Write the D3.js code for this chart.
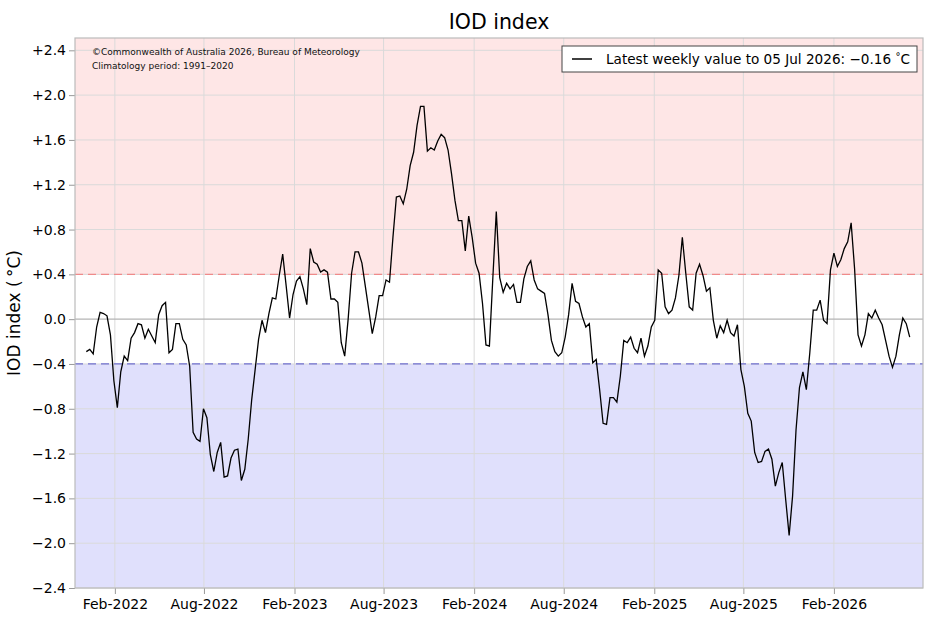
<!DOCTYPE html>
<html>
<head>
<meta http-equiv="Content-Type" content="text/html; charset=utf-8" />
<script src="https://cdn.jsdelivr.net/npm/d3@7"></script>
<title>IOD index</title>
<style>
  body { margin: 0; background: #fff; }
  text { font-family: "DejaVu Sans", sans-serif; }
</style>
</head>
<body>
<svg width="940" height="620" id="mainsvg"></svg>
<script>
// weekly IOD values, first week ending 05 Dec 2021, last 05 Jul 2026
const firstWeek = "2021-12-05";
const iod = [
  -0.29, -0.27, -0.31, -0.07, 0.06, 0.05, 0.03, -0.14, -0.55, -0.79,
  -0.47, -0.33, -0.37, -0.17, -0.12, -0.04, -0.05, -0.17, -0.09, -0.15,
  -0.21, 0.04, 0.12, 0.15, -0.30, -0.27, -0.04, -0.04, -0.18, -0.23,
  -0.42, -1.01, -1.07, -1.09, -0.80, -0.88, -1.21, -1.36, -1.19, -1.10,
  -1.41, -1.40, -1.24, -1.17, -1.16, -1.44, -1.34, -1.07, -0.72, -0.45,
  -0.18, -0.01, -0.12, 0.05, 0.19, 0.18, 0.39, 0.58, 0.30, 0.01,
  0.22, 0.34, 0.38, 0.27, 0.13, 0.63, 0.51, 0.49, 0.42, 0.44,
  0.42, 0.18, 0.18, 0.15, -0.21, -0.33, 0.00, 0.41, 0.60, 0.60,
  0.50, 0.29, 0.08, -0.13, 0.02, 0.21, 0.21, 0.35, 0.33, 0.73,
  1.09, 1.10, 1.03, 1.16, 1.37, 1.49, 1.73, 1.90, 1.90, 1.50,
  1.53, 1.51, 1.59, 1.65, 1.62, 1.51, 1.30, 1.06, 0.88, 0.88,
  0.61, 0.92, 0.73, 0.50, 0.41, 0.14, -0.23, -0.24, 0.37, 0.96,
  0.37, 0.24, 0.32, 0.27, 0.31, 0.15, 0.15, 0.36, 0.47, 0.52,
  0.35, 0.27, 0.25, 0.23, 0.04, -0.19, -0.29, -0.33, -0.30, -0.16,
  0.04, 0.32, 0.16, 0.14, 0.02, -0.07, -0.04, -0.39, -0.36, -0.63,
  -0.93, -0.94, -0.70, -0.70, -0.74, -0.51, -0.19, -0.21, -0.16, -0.26,
  -0.30, -0.17, -0.33, -0.24, -0.07, -0.01, 0.44, 0.41, 0.11, 0.05,
  0.08, 0.19, 0.39, 0.73, 0.41, 0.11, 0.08, 0.41, 0.49, 0.39,
  0.25, 0.28, -0.01, -0.17, -0.06, -0.12, -0.01, -0.12, -0.15, -0.05,
  -0.45, -0.60, -0.84, -0.91, -1.19, -1.28, -1.27, -1.18, -1.16, -1.25,
  -1.49, -1.37, -1.28, -1.61, -1.93, -1.58, -0.99, -0.61, -0.47, -0.63,
  -0.30, 0.08, 0.08, 0.17, -0.01, -0.04, 0.44, 0.59, 0.47, 0.53,
  0.63, 0.69, 0.86, 0.45, -0.14, -0.24, -0.14, 0.05, 0.01, 0.08,
  0.01, -0.05, -0.19, -0.33, -0.43, -0.33, -0.14, 0.01, -0.04, -0.16
];
const yTicks = [-2.4, -2.0, -1.6, -1.2, -0.8, -0.4, 0, 0.4, 0.8, 1.2, 1.6, 2.0, 2.4];
const xTickLabels = ["Feb-2022", "Aug-2022", "Feb-2023", "Aug-2023", "Feb-2024",
                     "Aug-2024", "Feb-2025", "Aug-2025", "Feb-2026"];
const threshold = 0.4;

let svg = d3.select("#mainsvg");
const margin = {left: 75, right: 17, top: 38, bottom: 32};
const width = +svg.attr("width");
const height = +svg.attr("height");
const innerW = width - margin.left - margin.right;
const innerH = height - margin.top - margin.bottom;

const parseDay = d3.timeParse("%Y-%m-%d");
const parseTick = d3.timeParse("%b-%Y");
const start = parseDay(firstWeek);
const data = iod.map((v, i) => ({date: d3.timeDay.offset(start, 7 * i), value: v}));

const x = d3.scaleTime()
  .domain([parseDay("2021-11-12"), parseDay("2026-08-01")])
  .range([0, innerW]);
const y = d3.scaleLinear().domain([-2.4, 2.51]).range([innerH, 0]);

const g = svg.append("g").attr("transform", `translate(${margin.left},${margin.top})`);

// shaded positive / negative IOD regions
g.append("rect").attr("x", 0).attr("y", 0)
  .attr("width", innerW).attr("height", y(threshold))
  .attr("fill", "#fee6e6");
g.append("rect").attr("x", 0).attr("y", y(-threshold))
  .attr("width", innerW).attr("height", innerH - y(-threshold))
  .attr("fill", "#e0e0fc");

// grid
const xTicks = xTickLabels.map(parseTick);
g.selectAll(".vgrid").data(xTicks).join("line")
  .attr("class", "vgrid")
  .attr("x1", d => x(d)).attr("x2", d => x(d))
  .attr("y1", 0).attr("y2", innerH)
  .attr("stroke", "#dadada").attr("stroke-width", 1);
g.selectAll(".hgrid").data(yTicks).join("line")
  .attr("class", "hgrid")
  .attr("x1", 0).attr("x2", innerW)
  .attr("y1", d => y(d)).attr("y2", d => y(d))
  .attr("stroke", d => d === 0 ? "#b4b4b4" : "#dadada")
  .attr("stroke-width", d => d === 0 ? 1.2 : 1);

// thresholds
g.append("line").attr("x1", 0).attr("x2", innerW)
  .attr("y1", y(threshold)).attr("y2", y(threshold))
  .attr("stroke", "#f08a8a").attr("stroke-width", 1.2).attr("stroke-dasharray", "8,5");
g.append("line").attr("x1", 0).attr("x2", innerW)
  .attr("y1", y(-threshold)).attr("y2", y(-threshold))
  .attr("stroke", "#6f6fcf").attr("stroke-width", 1.2).attr("stroke-dasharray", "8,5");

// the series
const line = d3.line().x(d => x(d.date)).y(d => y(d.value));
g.append("path").datum(data)
  .attr("d", line)
  .attr("fill", "none")
  .attr("stroke", "#000")
  .attr("stroke-width", 1.3)
  .attr("stroke-linejoin", "miter");

// axes
const fmtY = d => d > 0 ? "+" + d.toFixed(1) : d < 0 ? "\u2212" + Math.abs(d).toFixed(1) : "0.0";
const yAxis = g.append("g")
  .call(d3.axisLeft(y).tickValues(yTicks).tickFormat(fmtY).tickSize(6).tickPadding(3));
const xAxis = g.append("g").attr("transform", `translate(0,${innerH})`)
  .call(d3.axisBottom(x).tickValues(xTicks).tickFormat(d3.timeFormat("%b-%Y")).tickSize(6).tickPadding(5));
[yAxis, xAxis].forEach(a => {
  a.select(".domain").remove();
  a.selectAll("line").attr("stroke", "#999");
  a.selectAll("text").attr("fill", "#000").style("font-size", "14px")
    .style("font-family", "'DejaVu Sans', sans-serif");
});

// frame
g.append("rect").attr("x", 0).attr("y", 0).attr("width", innerW).attr("height", innerH)
  .attr("fill", "none").attr("stroke", "#bbb").attr("stroke-width", 1.2);

// title & labels
svg.append("text").attr("x", margin.left + innerW / 2).attr("y", 29)
  .attr("text-anchor", "middle").style("font-size", "20.5px").text("IOD index");
svg.append("text")
  .attr("transform", `translate(20,${margin.top + innerH / 2}) rotate(-90)`)
  .attr("text-anchor", "middle").style("font-size", "17px")
  .text("IOD index (\u2009\u00b0C)");

g.append("text").attr("x", 17).attr("y", 17).style("font-size", "9px").attr("fill", "#111")
  .text("\u00a9Commonwealth of Australia 2026, Bureau of Meteorology");
g.append("text").attr("x", 17).attr("y", 31).style("font-size", "9px").attr("fill", "#111")
  .text("Climatology period: 1991\u20132020");

// legend
const leg = svg.append("g").attr("transform", "translate(562,46)");
leg.append("rect").attr("width", 355).attr("height", 26)
  .attr("fill", "#fff").attr("stroke", "#444").attr("stroke-width", 1);
leg.append("line").attr("x1", 10).attr("x2", 30).attr("y1", 13).attr("y2", 13)
  .attr("stroke", "#000").attr("stroke-width", 1.5);
const lt = leg.append("text").attr("x", 44).attr("y", 18).style("font-size", "13.6px");
lt.append("tspan").text("Latest weekly value to 05 Jul 2026: \u2212" + Math.abs(iod[iod.length - 1]).toFixed(2) + " ");
lt.append("tspan").attr("dy", -4).style("font-size", "10px").text("\u00b0");
lt.append("tspan").attr("dy", 4).text("C");
</script>
</body>
</html>
